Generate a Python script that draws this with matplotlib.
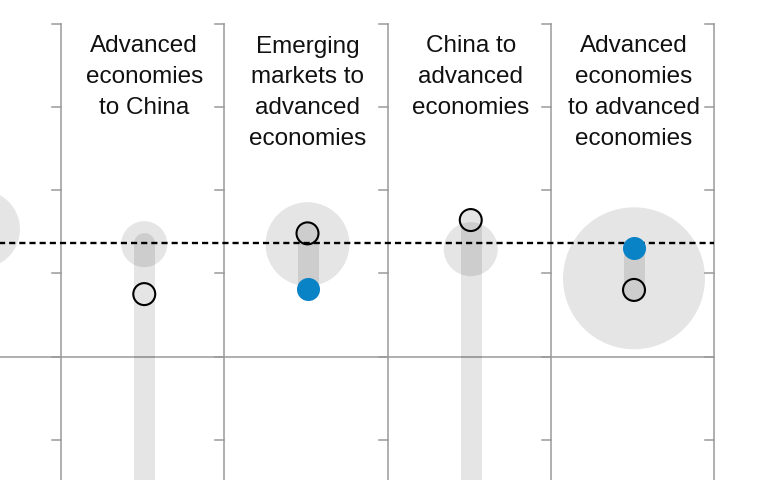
import matplotlib
matplotlib.use("Agg")
import matplotlib.pyplot as plt
import numpy as np

# panel titles (first panel is cut off at the left edge)
titles = ["",
          "Advanced\neconomies\nto China",
          "Emerging\nmarkets to\nadvanced\neconomies",
          "China to\nadvanced\neconomies",
          "Advanced\neconomies\nto advanced\neconomies"]
panel_pos = [-1, 0, 1, 2, 3]

# grey bubble: centre value and relative area
bubble_val = [1.53, 1.35, 1.35, 1.29, 0.94]
bubble_area = [15.2, 5.3, 17.6, 7.3, 50.4]

# range bar, open circle, blue dot (nan = outside the shown window)
bar_top = [np.nan, 1.36, 1.48, 1.64, 1.30]
bar_bottom = [np.nan, -2.0, 0.81, -2.0, 0.80]
open_val = [np.nan, 0.75, 1.48, 1.64, 0.80]
blue_val = [np.nan, -2.0, 0.81, -2.0, 1.30]

reference = 1.36
yticks = [-1, 0, 1, 2, 3, 4]

plt.rcParams['font.family'] = ['Liberation Sans', 'DejaVu Sans']

fig = plt.figure(figsize=(7.67, 4.8), dpi=100)
ax = fig.add_axes([0, 0, 1, 1])
ax.set_xlim(-61 / 163.25, (767 - 61) / 163.25)
ax.set_ylim(-(480 - 356.5) / 83.2, 356.5 / 83.2)
ax.axis("off")

grey = "#9a9a9a"
xc = np.array(panel_pos) + 0.51

# panel separators with small ticks on their left
tick_len = 9 / 163.25
for k in range(5):
    ax.plot([k, k], [-3, 4], color=grey, lw=1.1, zorder=1)
    for t in yticks:
        ax.plot([k - tick_len, k], [t, t], color=grey, lw=1.1, zorder=1)
ax.plot([-1, 4], [0, 0], color=grey, lw=1.1, zorder=1)

# bubbles
ax.scatter(xc, bubble_val, s=np.array(bubble_area) * 207.36,
           color="black", alpha=0.1, linewidths=0, zorder=2)

# range bars
for x, top, bot in zip(xc, bar_top, bar_bottom):
    if np.isnan(top):
        continue
    ax.plot([x, x], [bot, top], color="black", alpha=0.1, lw=15.1,
            solid_capstyle="round", zorder=2)

# dashed reference line
ax.plot([-1, 4], [reference, reference], color="black", lw=1.7,
        dashes=(2.6, 1.7), zorder=3)

ax.scatter(xc, blue_val, s=275, color="#0a82c6", linewidths=0, zorder=4)
ax.scatter(xc, open_val, s=250, facecolors="none", edgecolors="black",
           linewidths=1.5, zorder=5)

for x, t in zip(xc, titles):
    ax.text(x, (356.5 - 35.5) / 83.2, t, ha="center", va="top",
            fontsize=17.5, linespacing=1.52, color="#111111")

fig.savefig("out.png", dpi=100)
